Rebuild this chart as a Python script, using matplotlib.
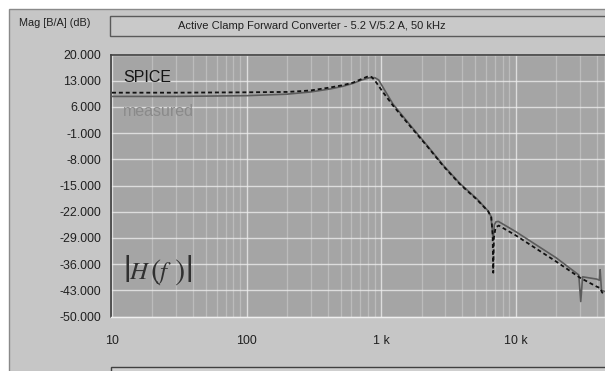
import matplotlib
matplotlib.use("Agg")
import matplotlib.pyplot as plt
from matplotlib.patches import Rectangle
from matplotlib.ticker import FixedLocator, LogLocator, NullFormatter

plt.rcParams['font.family'] = ['Liberation Sans', 'DejaVu Sans']

title = "Active Clamp Forward Converter - 5.2 V/5.2 A, 50 kHz"
ylabel = "Mag [B/A] (dB)"

spice_f = [10, 30, 100, 200, 250, 300, 420, 520, 620, 700, 800, 850, 902, 1035,
           1230, 1640, 2200, 2900, 3870, 5170, 6250, 6600, 6750, 6820, 6900,
           7100, 7500, 10000, 15000, 20000, 30000, 40000, 42500, 44000, 48000]
spice_db = [9.8, 9.8, 9.9, 10.0, 10.2, 10.4, 11.2, 11.8, 12.5, 13.3, 14.15, 14.0,
            13.0, 9.9, 6.3, 0.9, -4.5, -9.8, -14.7, -18.8, -21.9, -23.5, -28.0,
            -38.3, -29.0, -26.2, -25.7, -28.3, -32.4, -35.3, -39.6, -42.0, -42.4,
            -43.6, -44.2]

meas_f = [10, 30, 100, 200, 300, 420, 520, 620, 720, 820, 900, 960, 1050, 1230,
          1640, 2200, 2900, 3870, 5170, 6250, 6550, 6700, 6800, 6950, 7150, 7450,
          10000, 15000, 20000, 29500, 30500, 31500, 40000, 42000, 42500, 43500,
          48000]
meas_db = [8.8, 8.8, 9.0, 9.4, 10.0, 10.8, 11.5, 12.3, 13.2, 13.8, 13.8, 13.2,
           10.8, 6.7, 1.2, -4.3, -9.6, -14.5, -18.6, -21.8, -23.2, -26.5, -29.5,
           -25.5, -24.7, -24.6, -27.3, -31.4, -34.3, -38.9, -46.0, -39.4, -40.0,
           -40.3, -37.5, -43.0, -43.5]

y_ticks = [20, 13, 6, -1, -8, -15, -22, -29, -36, -43, -50]
x_ticks = [10, 100, 1000, 10000]
x_labels = ["10", "100", "1 k", "10 k"]

W, H = 605, 371
fig = plt.figure(figsize=(W / 100, H / 100), dpi=100)
fig.patch.set_facecolor('white')

def px(x0, y0, x1, y1):
    return (x0 / W, 1 - y1 / H, (x1 - x0) / W, (y1 - y0) / H)

def box(x0, y0, x1, y1, fc, ec):
    l, b, w, h = px(x0, y0, x1, y1)
    fig.patches.append(Rectangle((l, b), w, h, transform=fig.transFigure,
                                 facecolor=fc, edgecolor=ec, lw=1.0, zorder=-5))

box(9, 9, 620, 380, '#c6c6c6', '#8a8a8a')     # outer panel
box(110, 16, 620, 36, '#c9c9c9', '#5a5a5a')   # title box
box(111, 367, 620, 390, '#cfcfcf', '#404040')  # bottom box

fig.text(312 / W, 1 - 26 / H, title, ha='center', va='center', fontsize=8.0,
         color='#202020')
fig.text(90 / W, 1 - 23 / H, ylabel, ha='right', va='center', fontsize=7.8,
         color='#202020')

ax = fig.add_axes(px(111, 54.5, 605, 316.5))
ax.set_facecolor('#a5a5a5')
ax.set_xscale('log')
ax.set_xlim(9.83, 46200)
ax.set_ylim(-50, 20)

ax.plot(meas_f, meas_db, color='#5c5c5c', lw=1.2, solid_joinstyle='round', zorder=3)
ax.plot(spice_f, spice_db, color='#111111', lw=1.3, ls=(0, (2.2, 1.6)), zorder=4)

ax.yaxis.set_major_locator(FixedLocator(y_ticks))
ax.set_yticklabels([f"{v:.3f}" for v in y_ticks])
ax.xaxis.set_major_locator(FixedLocator(x_ticks))
ax.set_xticklabels(x_labels)
ax.xaxis.set_minor_locator(LogLocator(base=10, subs=range(2, 10)))
ax.xaxis.set_minor_formatter(NullFormatter())
ax.tick_params(axis='both', which='both', length=0, labelsize=8.9,
               labelcolor='#202020')
ax.tick_params(axis='x', pad=13)
ax.tick_params(axis='y', pad=7)

ax.grid(True, which='major', color='#f0f0f0', lw=1.0, alpha=0.75)
ax.grid(True, which='minor', axis='x', color='#e0e0e0', lw=0.9, alpha=0.4)
ax.set_axisbelow(True)

for side in ('top', 'left'):
    ax.spines[side].set_color('#404040')
    ax.spines[side].set_linewidth(1.2)
for side in ('bottom', 'right'):
    ax.spines[side].set_color('#efefef')
    ax.spines[side].set_linewidth(1.0)

fig.text(123 / W, 1 - 77 / H, "SPICE", ha='left', va='center', fontsize=11.5,
         color='#151515')
fig.text(123 / W, 1 - 111 / H, "measured", ha='left', va='center', fontsize=11.5,
         color='#8a8a8a')

# |H(f)| drawn as separate serif glyphs
serif = ['STIXGeneral', 'DejaVu Serif']
hf_parts = [("|", 123, 27, 'normal'), ("H", 129, 18, 'italic'),
            ("(", 150, 22, 'normal'), ("f", 160, 18, 'italic'),
            (")", 174, 22, 'normal'), ("|", 185, 27, 'normal')]
for s, x, fs, st in hf_parts:
    fig.text(x / W, 1 - 273 / H, s, ha='left', va='center', fontsize=fs,
             family=serif, style=st, color='#303030')

fig.savefig('out.png', dpi=100, facecolor=fig.get_facecolor())
